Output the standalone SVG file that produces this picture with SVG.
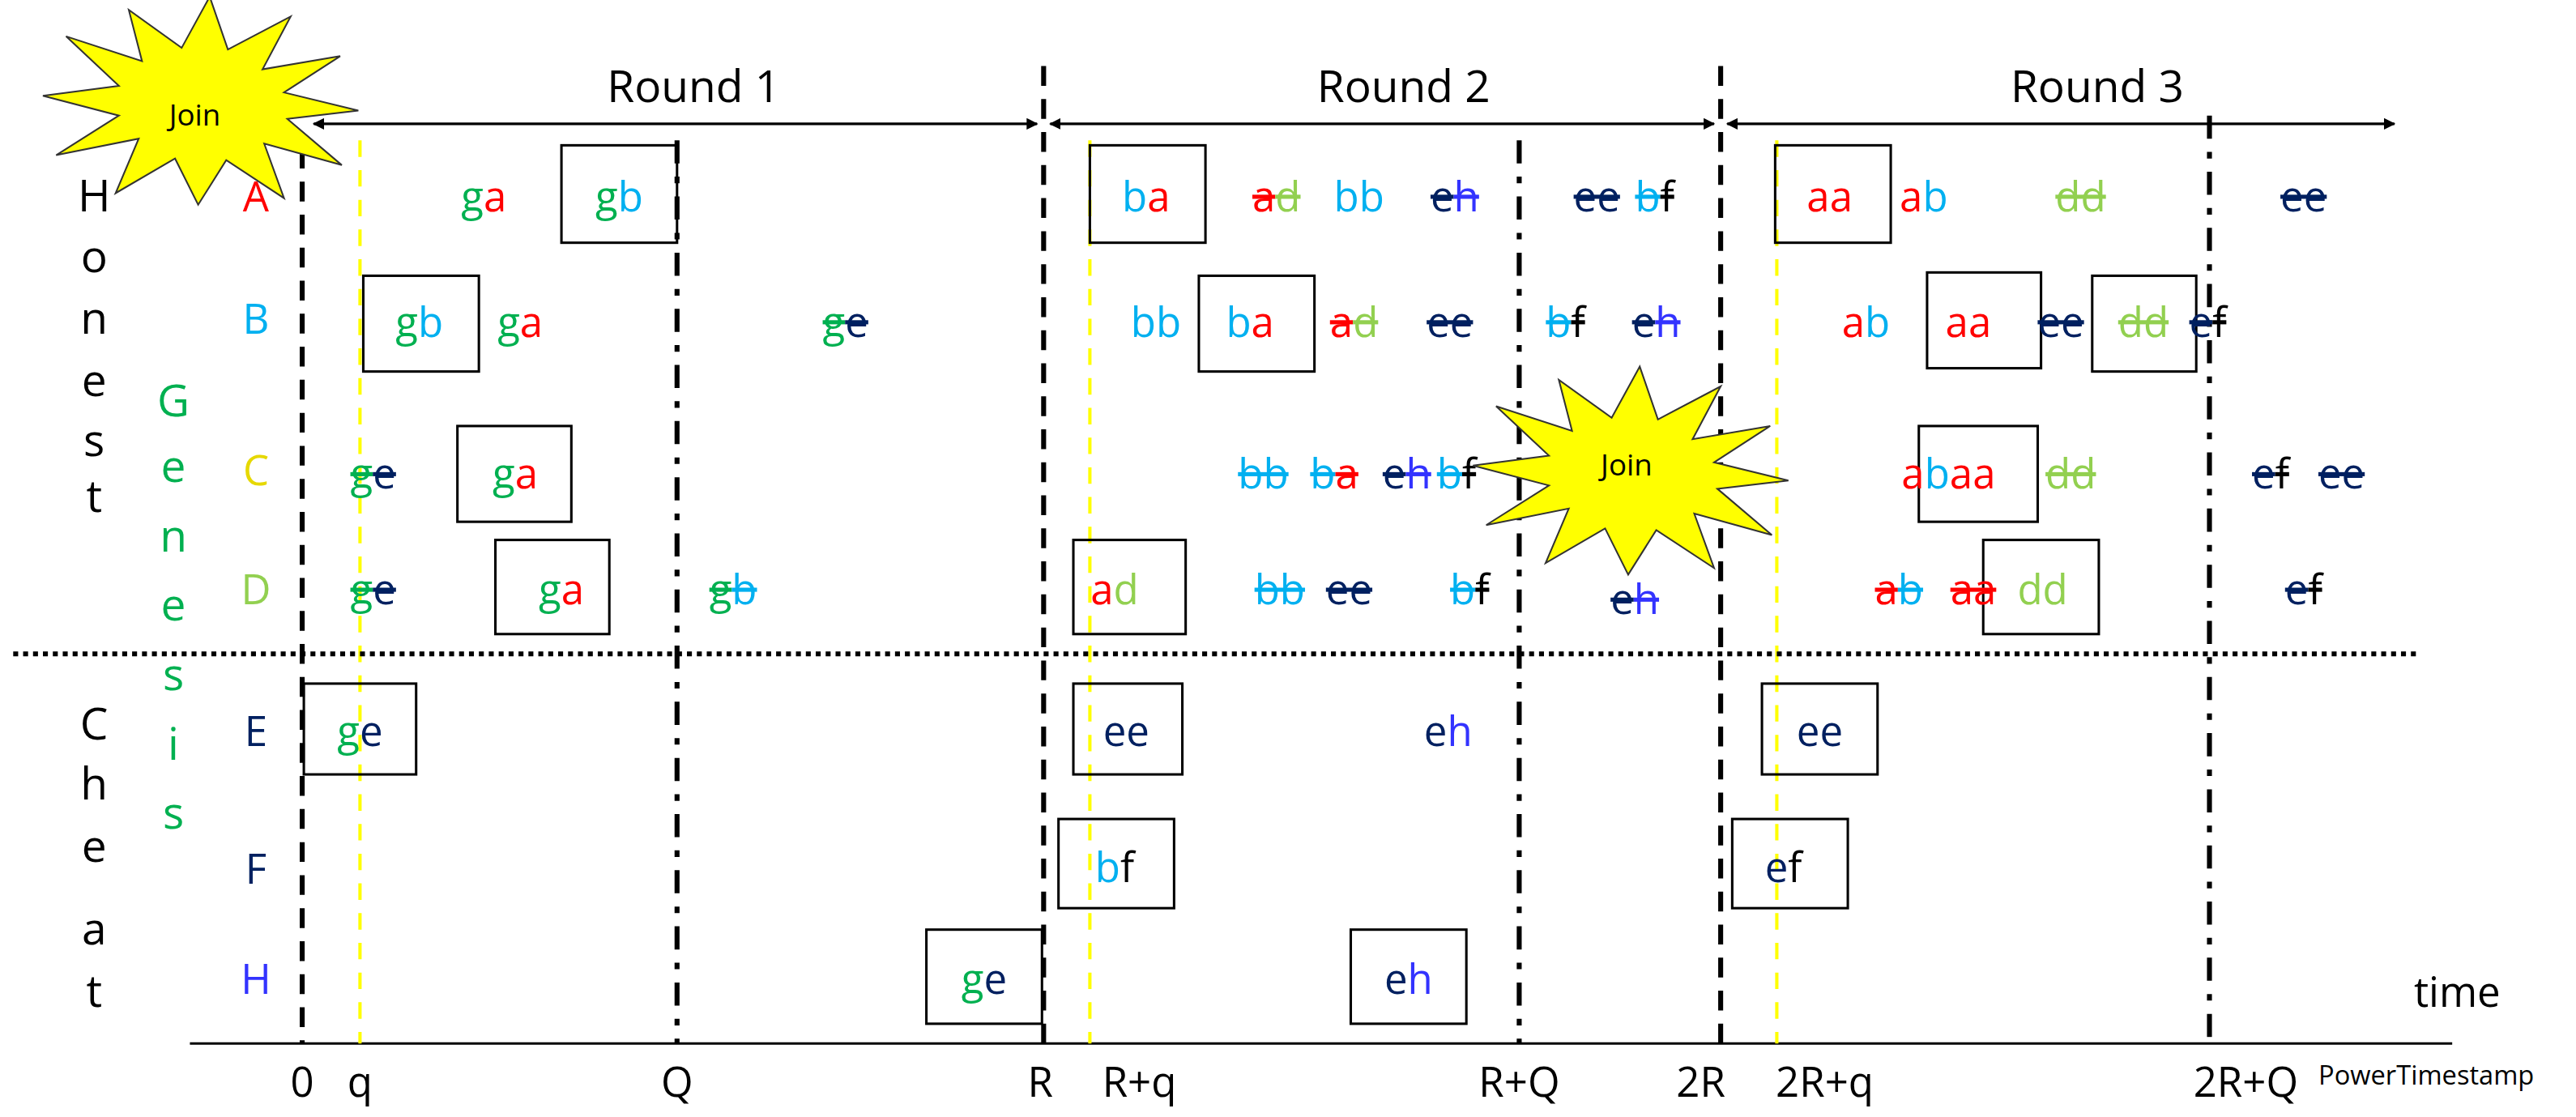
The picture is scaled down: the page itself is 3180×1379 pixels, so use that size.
<svg xmlns="http://www.w3.org/2000/svg" xmlns:xlink="http://www.w3.org/1999/xlink" width="3180" height="1379" viewBox="0 0 3180 1379">
<style>
text{font-family:"Open Sans","Liberation Sans",sans-serif;font-size:25px;text-anchor:middle}
.big{font-size:27px}
.sm{font-size:18px}
.pt{font-size:16px;text-anchor:start}
.g{fill:#00B050}.a{fill:#FF0000}.b{fill:#00B0F0}.d{fill:#92D050}.e{fill:#002060}.f{fill:#000}.h{fill:#3333FF}.y{fill:#E6D800}
.s{text-decoration:line-through}
.box{fill:none;stroke:#000;stroke-width:1.5}
.dash{stroke:#000;stroke-width:3;stroke-dasharray:12 8;fill:none}
.dd{stroke:#000;stroke-width:3;stroke-dasharray:14 8 4 8;fill:none}
.yl{stroke:#FFFF00;stroke-width:2;stroke-dasharray:10 8;fill:none}
.ax{stroke:#000;stroke-width:1.5;fill:none}
.star{fill:#FFFF00;stroke:#333;stroke-width:1}
</style>
<defs>
<marker id="ar" viewBox="0 0 10 10" refX="9" refY="5" markerWidth="7" markerHeight="7" orient="auto-start-reverse" markerUnits="userSpaceOnUse"><path d="M0,0L10,5L0,10z" fill="#000"/></marker>
<polygon id="st" points="95,5 52,10 85,38 38,25 50,58 15,35 -2,62 -16,34 -52,55 -38,22 -88,32 -50,8 -96,-4 -50,-10 -82,-40 -36,-25 -44,-56 -12,-33 5,-64 16,-32 54,-52 37,-20 84,-28 50,-6"/>
</defs>
<rect width="3180" height="1379" fill="#fff"/>
<g transform="scale(2.0385)">
<g id="connectors">
<line class="ax" x1="190" y1="75" x2="628" y2="75" marker-start="url(#ar)" marker-end="url(#ar)"/>
<line class="ax" x1="636" y1="75" x2="1038" y2="75" marker-start="url(#ar)" marker-end="url(#ar)"/>
<line class="ax" x1="1046" y1="75" x2="1450" y2="75" marker-start="url(#ar)" marker-end="url(#ar)"/>
<line class="ax" x1="115" y1="632" x2="1485" y2="632"/>
<line class="dash" x1="183" y1="90" x2="183" y2="632"/>
<line class="dash" x1="632" y1="40" x2="632" y2="632"/>
<line class="dash" x1="1042" y1="40" x2="1042" y2="632"/>
<line class="dd" x1="410" y1="85" x2="410" y2="632"/>
<line class="dd" x1="920" y1="85" x2="920" y2="632"/>
<line class="dd" x1="1338" y1="70" x2="1338" y2="632"/>
<line class="yl" x1="218" y1="85" x2="218" y2="632"/>
<line class="yl" x1="660" y1="85" x2="660" y2="632"/>
<line class="yl" x1="1076" y1="85" x2="1076" y2="632"/>
<line x1="8" y1="396" x2="1465" y2="396" stroke="#000" stroke-width="3" stroke-dasharray="3 3"/>
</g>
<g id="labels">
<text x="420" y="62" class="big">Round 1</text>
<text x="850" y="62" class="big">Round 2</text>
<text x="1270" y="62" class="big">Round 3</text>
<text x="1488" y="610">time</text>
<text x="183" y="664">0</text><text x="218" y="664">q</text><text x="410" y="664">Q</text><text x="630" y="664">R</text><text x="690" y="664">R+q</text><text x="920" y="664">R+Q</text><text x="1030" y="664">2R</text><text x="1105" y="664">2R+q</text><text x="1360" y="664">2R+Q</text>
<text x="1404" y="657" class="pt">PowerTimestamp</text>
<g><text class="big" x="57" y="128">H</text><text class="big" x="57" y="165">o</text><text class="big" x="57" y="202">n</text><text class="big" x="57" y="240">e</text><text class="big" x="57" y="276">s</text><text class="big" x="57" y="310">t</text>
<text class="big" x="57" y="448">C</text><text class="big" x="57" y="484">h</text><text class="big" x="57" y="522">e</text><text class="big" x="57" y="572">a</text><text class="big" x="57" y="610">t</text></g>
<g class="g"><text class="big" x="105" y="252">G</text><text class="big" x="105" y="292">e</text><text class="big" x="105" y="334">n</text><text class="big" x="105" y="376">e</text><text class="big" x="105" y="418">s</text><text class="big" x="105" y="460">i</text><text class="big" x="105" y="502">s</text></g>
<text x="155" y="128" class="a">A</text><text x="155" y="202" class="b">B</text><text x="155" y="294" class="y">C</text><text x="155" y="366" class="d">D</text><text x="155" y="452" class="e">E</text><text x="155" y="535" class="e">F</text><text x="155" y="602" class="h">H</text>
</g>
<g id="boxes">
<rect class="box" x="340" y="88" width="70" height="59"/>
<rect class="box" x="660" y="88" width="70" height="59"/>
<rect class="box" x="1075" y="88" width="70" height="59"/>
<rect class="box" x="220" y="167" width="70" height="58"/>
<rect class="box" x="726" y="167" width="70" height="58"/>
<rect class="box" x="1167" y="165" width="69" height="58"/>
<rect class="box" x="1267" y="167" width="63" height="58"/>
<rect class="box" x="277" y="258" width="69" height="58"/>
<rect class="box" x="1162" y="258" width="72" height="58"/>
<rect class="box" x="300" y="327" width="69" height="57"/>
<rect class="box" x="650" y="327" width="68" height="57"/>
<rect class="box" x="1201" y="327" width="70" height="57"/>
<rect class="box" x="184" y="414" width="68" height="55"/>
<rect class="box" x="650" y="414" width="66" height="55"/>
<rect class="box" x="1067" y="414" width="70" height="55"/>
<rect class="box" x="641" y="496" width="70" height="54"/>
<rect class="box" x="1049" y="496" width="70" height="54"/>
<rect class="box" x="561" y="563" width="70" height="57"/>
<rect class="box" x="818" y="563" width="70" height="57"/>
</g>
<g id="rowA">
<text x="293" y="128"><tspan class="g">g</tspan><tspan class="a">a</tspan></text>
<text x="375" y="128"><tspan class="g">g</tspan><tspan class="b">b</tspan></text>
<text x="694" y="128"><tspan class="b">b</tspan><tspan class="a">a</tspan></text>
<text x="773" y="128"><tspan class="a s">a</tspan><tspan class="d s">d</tspan></text>
<text x="823" y="128" class="b">bb</text>
<text x="881" y="128"><tspan class="e s">e</tspan><tspan class="h s">h</tspan></text>
<text x="967" y="128"><tspan class="e s">ee</tspan></text>
<text x="1002" y="128"><tspan class="b s">b</tspan><tspan class="f s">f</tspan></text>
<text x="1108" y="128"><tspan class="a">aa</tspan></text>
<text x="1165" y="128"><tspan class="a">a</tspan><tspan class="b">b</tspan></text>
<text x="1260" y="128"><tspan class="d s">dd</tspan></text>
<text x="1395" y="128"><tspan class="e s">ee</tspan></text>
</g>
<g id="rowB">
<text x="254" y="204"><tspan class="g">g</tspan><tspan class="b">b</tspan></text>
<text x="315" y="204"><tspan class="g">g</tspan><tspan class="a">a</tspan></text>
<text x="512" y="204"><tspan class="g s">g</tspan><tspan class="e s">e</tspan></text>
<text x="700" y="204" class="b">bb</text>
<text x="757" y="204"><tspan class="b">b</tspan><tspan class="a">a</tspan></text>
<text x="820" y="204"><tspan class="a s">a</tspan><tspan class="d s">d</tspan></text>
<text x="878" y="204"><tspan class="e s">ee</tspan></text>
<text x="948" y="204"><tspan class="b s">b</tspan><tspan class="f s">f</tspan></text>
<text x="1003" y="204"><tspan class="e s">e</tspan><tspan class="h s">h</tspan></text>
<text x="1130" y="204"><tspan class="a">a</tspan><tspan class="b">b</tspan></text>
<text x="1192" y="204" class="a">aa</text>
<text x="1248" y="204"><tspan class="e s">ee</tspan></text>
<text x="1298" y="204"><tspan class="d s">dd</tspan></text>
<text x="1337" y="204"><tspan class="e s">e</tspan><tspan class="f s">f</tspan></text>
</g>
<g id="rowC">
<text x="226" y="296"><tspan class="g s">g</tspan><tspan class="e s">e</tspan></text>
<text x="312" y="296"><tspan class="g">g</tspan><tspan class="a">a</tspan></text>
<text x="765" y="296"><tspan class="b s">bb</tspan></text>
<text x="808" y="296"><tspan class="b s">b</tspan><tspan class="a s">a</tspan></text>
<text x="852" y="296"><tspan class="e s">e</tspan><tspan class="h s">h</tspan></text>
<text x="882" y="296"><tspan class="b s">b</tspan><tspan class="f s">f</tspan></text>
<text x="1180" y="296"><tspan class="a">a</tspan><tspan class="b">b</tspan><tspan class="a">aa</tspan></text>
<text x="1254" y="296"><tspan class="d s">dd</tspan></text>
<text x="1375" y="296"><tspan class="e s">e</tspan><tspan class="f s">f</tspan></text>
<text x="1418" y="296"><tspan class="e s">ee</tspan></text>
</g>
<g id="rowD">
<text x="226" y="366"><tspan class="g s">g</tspan><tspan class="e s">e</tspan></text>
<text x="340" y="366"><tspan class="g">g</tspan><tspan class="a">a</tspan></text>
<text x="444" y="366"><tspan class="g s">g</tspan><tspan class="b s">b</tspan></text>
<text x="675" y="366"><tspan class="a">a</tspan><tspan class="d">d</tspan></text>
<text x="775" y="366"><tspan class="b s">bb</tspan></text>
<text x="817" y="366"><tspan class="e s">ee</tspan></text>
<text x="890" y="366"><tspan class="b s">b</tspan><tspan class="f s">f</tspan></text>
<text x="990" y="372"><tspan class="e s">e</tspan><tspan class="h s">h</tspan></text>
<text x="1150" y="366"><tspan class="a s">a</tspan><tspan class="b s">b</tspan></text>
<text x="1195" y="366"><tspan class="a s">aa</tspan></text>
<text x="1237" y="366" class="d">dd</text>
<text x="1395" y="366"><tspan class="e s">e</tspan><tspan class="f s">f</tspan></text>
</g>
<g id="rowE">
<text x="218" y="452"><tspan class="g">g</tspan><tspan class="e">e</tspan></text>
<text x="682" y="452" class="e">ee</text>
<text x="877" y="452"><tspan class="e">e</tspan><tspan class="h">h</tspan></text>
<text x="1102" y="452" class="e">ee</text>
</g>
<g id="rowF">
<text x="675" y="534"><tspan class="b">b</tspan><tspan class="f">f</tspan></text>
<text x="1080" y="534"><tspan class="e">e</tspan><tspan class="f">f</tspan></text>
</g>
<g id="rowH">
<text x="596" y="602"><tspan class="g">g</tspan><tspan class="e">e</tspan></text>
<text x="853" y="602"><tspan class="e">e</tspan><tspan class="h">h</tspan></text>
</g>
<g id="join1"><use xlink:href="#st" class="star" transform="translate(122,62)"/><text x="118" y="76" class="sm">Join</text></g>
<g id="join2"><use xlink:href="#st" class="star" transform="translate(988,286)"/><text x="985" y="288" class="sm">Join</text></g>
</g>
</svg>
